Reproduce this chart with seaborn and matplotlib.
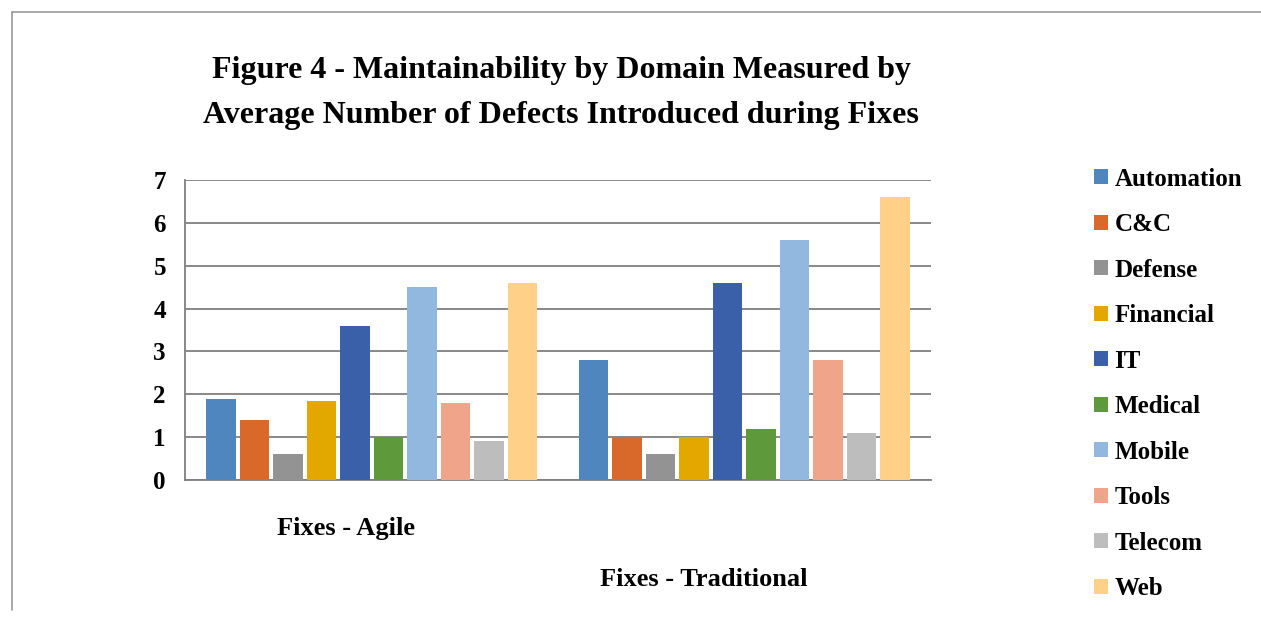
import pandas as pd
import matplotlib
matplotlib.use("Agg")
import matplotlib.pyplot as plt
import seaborn as sns
from matplotlib.lines import Line2D

# values (estimated, perspective makes them approximate)
domains = ['Automation', 'C&C', 'Defense', 'Financial', 'IT',
           'Medical', 'Mobile', 'Tools', 'Telecom', 'Web']
groups = ['Fixes - Agile', 'Fixes - Traditional']
agile = [1.9, 1.4, 0.6, 1.85, 3.6, 1.0, 4.5, 1.8, 0.9, 4.6]
traditional = [2.8, 1.0, 0.6, 1.0, 4.6, 1.2, 5.6, 2.8, 1.1, 6.6]
y_ticks = [0, 1, 2, 3, 4, 5, 6, 7]

colors = ['#4F86BE', '#D8692A', '#939393', '#E3A800', '#3A60AA',
          '#5E9A3B', '#93B8E0', '#F0A58A', '#BDBDBD', '#FFD088']

df = pd.DataFrame({
    'group': [groups[0]] * len(domains) + [groups[1]] * len(domains),
    'domain': domains * 2,
    'value': agile + traditional,
})

sns.set_style('white')
plt.rcParams['font.family'] = ['Liberation Serif', 'DejaVu Serif']
plt.rcParams['font.weight'] = 'bold'
plt.rcParams['text.color'] = 'black'
plt.rcParams['xtick.color'] = 'black'
plt.rcParams['ytick.color'] = 'black'

fig = plt.figure(figsize=(12.61, 6.21), dpi=100)
ax = fig.add_axes([0.147, 0.227, 0.591, 0.483])

sns.barplot(data=df, x='group', y='value', hue='domain', hue_order=domains,
            palette=colors, width=0.9, gap=0.12, saturation=1,
            edgecolor='none', ax=ax, zorder=3)

ax.set_ylim(0, 7)
ax.set_yticks(y_ticks)
ax.set_xlim(-0.5, 1.5)
ax.yaxis.grid(True, color='#7f7f7f', linewidth=1.3, zorder=0)
ax.set_xlabel('')
ax.set_ylabel('')
for side in ['top', 'right']:
    ax.spines[side].set_visible(False)
for side in ['left', 'bottom']:
    ax.spines[side].set_color('#7f7f7f')
    ax.spines[side].set_linewidth(1.3)

ax.tick_params(axis='y', length=0, pad=14, labelsize=18)
for lab in ax.get_yticklabels():
    lab.set_fontweight('bold')

# category labels, staggered like in the original
ax.set_xticks(range(len(groups)))
ax.set_xticklabels([])
ax.tick_params(axis='x', length=0)
ax.text(0 - 0.07, -0.163, groups[0], transform=ax.get_xaxis_transform(),
        ha='center', va='center', fontsize=19, fontweight='bold')
ax.text(1 - 0.11, -0.333, groups[1], transform=ax.get_xaxis_transform(),
        ha='center', va='center', fontsize=19, fontweight='bold')

handles, labels = ax.get_legend_handles_labels()
ax.legend(handles, labels, loc='upper left', bbox_to_anchor=(0.860, 0.746),
          bbox_transform=fig.transFigure, frameon=False,
          prop={'family': 'Liberation Serif', 'weight': 'bold', 'size': 18},
          handlelength=0.55, handleheight=0.55, handletextpad=0.25,
          labelspacing=0.9, borderaxespad=0)

fig.text(0.445, 0.887, 'Figure 4 - Maintainability by Domain Measured by',
         ha='center', va='center', fontsize=23, fontweight='bold')
fig.text(0.445, 0.814, 'Average Number of Defects Introduced during Fixes',
         ha='center', va='center', fontsize=23, fontweight='bold')

# outer frame (top and left edges)
fig.add_artist(Line2D([12 / 1261, 1.0], [1 - 12 / 621, 1 - 12 / 621],
                      color='#9a9a9a', linewidth=1.2, transform=fig.transFigure))
fig.add_artist(Line2D([12 / 1261, 12 / 1261], [1 - 12 / 621, 1 - 610 / 621],
                      color='#9a9a9a', linewidth=1.2, transform=fig.transFigure))

fig.savefig('out.png', dpi=100)
